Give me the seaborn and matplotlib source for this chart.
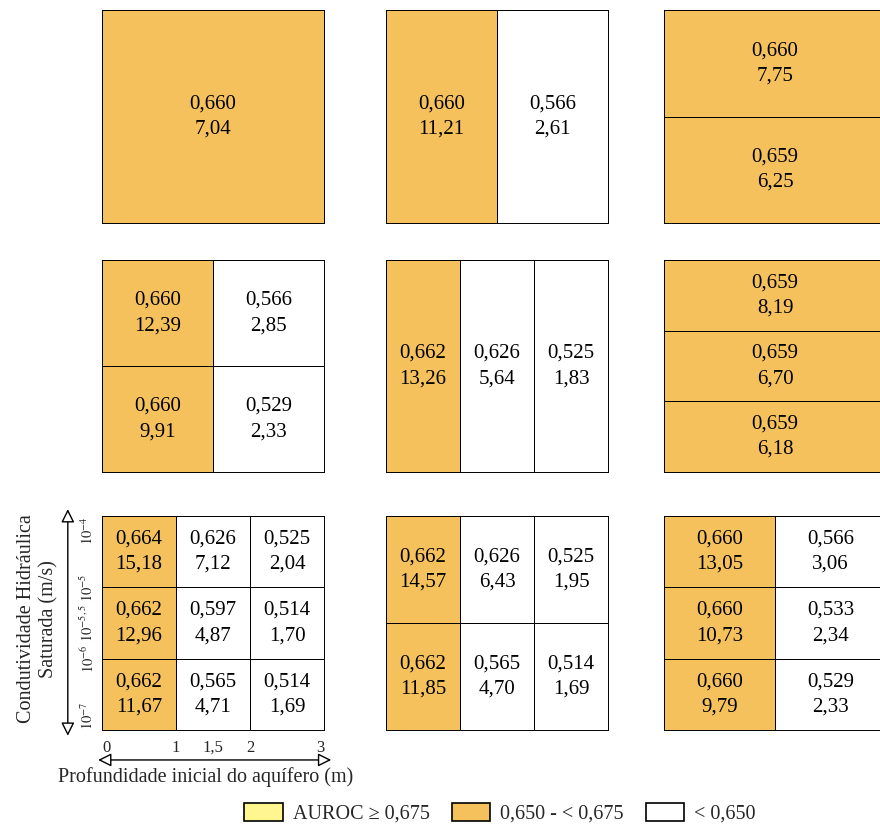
import numpy as np
import seaborn as sns
import matplotlib.pyplot as plt
from matplotlib.colors import ListedColormap
from matplotlib.patches import Patch

sns.set_theme(style="white")
plt.rcParams['font.family'] = ['Liberation Serif', 'DejaVu Serif']
plt.rcParams['mathtext.fontset'] = 'stix'

# AUROC and second value of each cell (rows top->bottom, columns left->right)
auroc_1 = [[0.660]]
valor_1 = [[7.04]]
auroc_2 = [[0.660, 0.566]]
valor_2 = [[11.21, 2.61]]
auroc_3 = [[0.660], [0.659]]
valor_3 = [[7.75], [6.25]]
auroc_4 = [[0.660, 0.566], [0.660, 0.529]]
valor_4 = [[12.39, 2.85], [9.91, 2.33]]
auroc_5 = [[0.662, 0.626, 0.525]]
valor_5 = [[13.26, 5.64, 1.83]]
auroc_6 = [[0.659], [0.659], [0.659]]
valor_6 = [[8.19], [6.70], [6.18]]
auroc_7 = [[0.664, 0.626, 0.525], [0.662, 0.597, 0.514], [0.662, 0.565, 0.514]]
valor_7 = [[15.18, 7.12, 2.04], [12.96, 4.87, 1.70], [11.67, 4.71, 1.69]]
auroc_8 = [[0.662, 0.626, 0.525], [0.662, 0.565, 0.514]]
valor_8 = [[14.57, 6.43, 1.95], [11.85, 4.70, 1.69]]
auroc_9 = [[0.660, 0.566], [0.660, 0.533], [0.660, 0.529]]
valor_9 = [[13.05, 3.06], [10.73, 2.34], [9.79, 2.33]]

prof_ticks = [0, 1, 1.5, 2, 3]
prof_labels = ["0", "1", "1,5", "2", "3"]
cond_ticks = [0, 1, 1.5, 2, 3]
cond_labels = [r"$10^{-4}$", r"$10^{-5}$", r"$10^{-5,5}$", r"$10^{-6}$", r"$10^{-7}$"]
classes = ["AUROC \u2265 0,675", "0,650 - < 0,675", "< 0,650"]
limites = [0.650, 0.675]

branco, laranja, amarelo = "white", "#F4C15D", "#FFF68F"
cmap = ListedColormap([branco, laranja, amarelo])

paineis = [(auroc_1, valor_1), (auroc_2, valor_2), (auroc_3, valor_3),
           (auroc_4, valor_4), (auroc_5, valor_5), (auroc_6, valor_6),
           (auroc_7, valor_7), (auroc_8, valor_8), (auroc_9, valor_9)]

W, H = 880, 827
fig = plt.figure(figsize=(W / 100, H / 100), dpi=100)

col_x = [102, 386, 664]
row_y = [(10, 223), (260, 472), (516, 730)]
pw = 222


def fmt(x, d):
    return f"{x:.{d}f}".replace(".", ",")


axes = []
for k, (au, va) in enumerate(paineis):
    r, c = divmod(k, 3)
    top, bot = row_y[r]
    ax = fig.add_axes([col_x[c] / W, 1 - bot / H, pw / W, (bot - top) / H])
    au = np.array(au)
    va = np.array(va)
    classe = np.digitize(au, limites)
    texto = np.vectorize(lambda a, v: fmt(a, 3) + "\n" + fmt(v, 2))(au, va)
    sns.heatmap(classe, ax=ax, cmap=cmap, vmin=-0.5, vmax=2.5, cbar=False,
                annot=texto, fmt="", linewidths=0.6, linecolor="black",
                annot_kws={"fontsize": 15, "color": "black", "linespacing": 1.45},
                xticklabels=False, yticklabels=False)
    for s in ax.spines.values():
        s.set_visible(True)
        s.set_color("black")
        s.set_linewidth(0.7)
    axes.append(ax)

# axis annotations on the bottom-left panel
ax = axes[6]
ax.set_xticks(prof_ticks)
ax.set_xticklabels(prof_labels, fontsize=12)
ax.set_yticks(cond_ticks)
ax.set_yticklabels(cond_labels, fontsize=10.5, rotation=90, va="center")
ax.tick_params(axis="x", length=0, pad=7)
ax.tick_params(axis="y", length=0, pad=4)
xt = ax.get_xticklabels()
xt[0].set_ha("left")
xt[-1].set_ha("right")
yt = ax.get_yticklabels()
yt[0].set_va("top")
yt[-1].set_va("bottom")

arrow = dict(arrowstyle="<|-|>", mutation_scale=20, fc="white", ec="black", lw=1)
ax.annotate("", xy=(-0.154, 1.045), xytext=(-0.154, -0.04), xycoords="axes fraction",
            arrowprops=arrow, annotation_clip=False)
ax.annotate("", xy=(-0.03, -0.14), xytext=(1.045, -0.14), xycoords="axes fraction",
            arrowprops=arrow, annotation_clip=False)
ax.text(0.465, -0.22, "Profundidade inicial do aquífero (m)", transform=ax.transAxes,
        ha="center", va="center", fontsize=14.5)
ax.text(-0.29, 0.52, "Condutividade Hidráulica\nSaturada (m/s)", transform=ax.transAxes,
        ha="center", va="center", rotation=90, fontsize=14.5, multialignment="center")

handles = [Patch(facecolor=c, edgecolor="black", linewidth=1.2) for c in [amarelo, laranja, branco]]
fig.legend(handles, classes, loc="center", bbox_to_anchor=(500 / W, 1 - 813 / H), ncol=3,
           frameon=False, fontsize=14.5, handlelength=1.9, handleheight=1.0,
           handletextpad=0.5, columnspacing=1.1)

fig.savefig("out.png", dpi=100)
